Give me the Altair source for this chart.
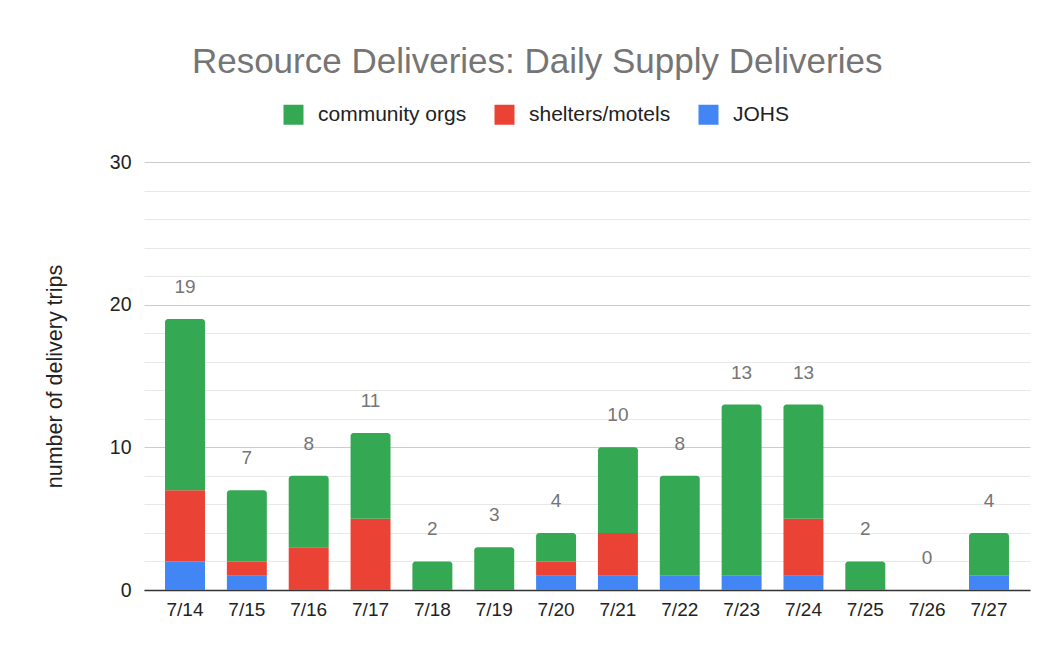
import altair as alt
import pandas as pd

dates = ["7/14", "7/15", "7/16", "7/17", "7/18", "7/19", "7/20",
         "7/21", "7/22", "7/23", "7/24", "7/25", "7/26", "7/27"]
community_orgs = [12, 5, 5, 6, 2, 3, 2, 6, 7, 12, 8, 2, 0, 3]
shelters_motels = [5, 1, 3, 5, 0, 0, 1, 3, 0, 0, 4, 0, 0, 0]
johs = [2, 1, 0, 0, 0, 0, 1, 1, 1, 1, 1, 0, 0, 1]

series_names = ["community orgs", "shelters/motels", "JOHS"]
series_colors = ["#34A853", "#EA4335", "#4285F4"]
y_ticks = list(range(0, 31, 2))

rows = []
for i, d in enumerate(dates):
    vals = [johs[i], shelters_motels[i], community_orgs[i]]
    names = ["JOHS", "shelters/motels", "community orgs"]
    nz = [k for k in range(3) if vals[k] > 0]
    top = max(nz) if nz else -1
    for k in range(3):
        rows.append({"date": d, "series": names[k], "ord": k,
                     "value": vals[k], "is_top": k == top})
df = pd.DataFrame(rows)

FONT = "Liberation Sans"

x = alt.X(
    "date:N", sort=dates, title=None,
    scale=alt.Scale(paddingInner=0.354, paddingOuter=0.34),
    axis=alt.Axis(labelAngle=0, ticks=False, domainColor="#333333",
                  domainWidth=1.5, labelFontSize=19, labelColor="#222222",
                  labelPadding=10, labelFont=FONT, grid=False),
)
color = alt.Color(
    "series:N",
    scale=alt.Scale(domain=series_names, range=series_colors),
    legend=alt.Legend(title=None, orient="none", legendX=139, legendY=-58,
                      direction="horizontal", symbolType="square",
                      symbolSize=400, labelFontSize=21, labelFont=FONT,
                      labelColor="#222222", columnPadding=27, labelOffset=14,
                      symbolStrokeWidth=0, symbolOpacity=1, padding=0),
)

y_axis = alt.Axis(
    values=y_ticks, title="number of delivery trips",
    labelExpr="datum.value % 10 === 0 ? datum.label : ''",
    gridColor={"condition": {"test": "datum.value % 10 === 0", "value": "#cccccc"},
               "value": "#e8e8e8"},
    domain=False, ticks=False, labelFontSize=19.5, labelColor="#222222",
    labelFont=FONT, labelPadding=13, titleFont=FONT, titleFontSize=21.5,
    titleColor="#222222", titleFontWeight="normal", titlePadding=43,
)
y_scale = alt.Scale(domain=[0, 30], nice=False)

base = alt.Chart(df)
stacked = base.transform_filter("datum.value > 0").transform_stack(
    stack="value", groupby=["date"], as_=["y0", "y1"],
    sort=[alt.SortField("ord", order="ascending")],
)

bars = stacked.transform_filter("!datum.is_top").mark_bar().encode(
    x=x, y=alt.Y("y1:Q", scale=y_scale, axis=y_axis), y2="y0:Q", color=color)
tops = stacked.transform_filter("datum.is_top").mark_bar(
    cornerRadiusTopLeft=3, cornerRadiusTopRight=3).encode(
    x=x, y=alt.Y("y1:Q", scale=y_scale, axis=y_axis), y2="y0:Q", color=color)
labels = base.transform_aggregate(total="sum(value)", groupby=["date"]).mark_text(
    dy=-26, baseline="alphabetic", fontSize=19, font=FONT, color="#757575"
).encode(x=x, y=alt.Y("total:Q", scale=y_scale, axis=y_axis), text="total:Q")

chart = alt.layer(bars, tops, labels).properties(
    width=886, height=428,
    padding={"left": 36, "top": 37, "right": 10, "bottom": 10},
    title=alt.TitleParams("Resource Deliveries: Daily Supply Deliveries",
                          fontSize=35, font=FONT, color="#757575",
                          fontWeight="normal", anchor="middle", frame="bounds",
                          offset=24),
).configure_view(stroke=None)

chart.save("out.html", embed_options={"renderer": "svg", "actions": False})
